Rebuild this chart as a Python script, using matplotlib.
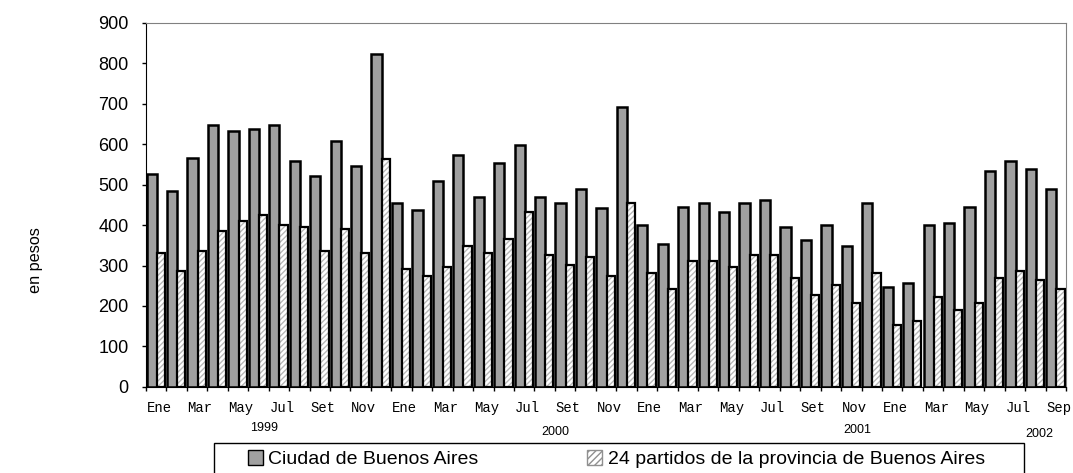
import numpy as np
import matplotlib.pyplot as plt
from matplotlib.patches import Patch, Rectangle
from matplotlib.transforms import blended_transform_factory

# datos: ingreso mensual, ene 1999 - sep 2002
n_meses = 45
etiquetas = ['Ene', 'Mar', 'May', 'Jul', 'Set', 'Nov',
             'Ene', 'Mar', 'May', 'Jul', 'Set', 'Nov',
             'Ene', 'Mar', 'May', 'Jul', 'Set', 'Nov',
             'Ene', 'Mar', 'May', 'Jul', 'Sep']

ciudad = [525, 485, 565, 648, 633, 638, 648, 558, 520, 608, 545, 822,
          455, 436, 510, 574, 470, 554, 599, 470, 455, 490, 441, 692,
          401, 352, 445, 455, 431, 455, 461, 396, 362, 401, 347, 455,
          248, 258, 401, 406, 445, 534, 559, 539, 490]

partidos = [332, 287, 337, 386, 411, 426, 401, 396, 337, 391, 332, 564,
            292, 273, 297, 347, 332, 366, 431, 327, 302, 322, 273, 455,
            282, 243, 312, 312, 297, 327, 327, 268, 228, 253, 208, 282,
            154, 164, 223, 189, 208, 268, 287, 263, 243]

anios = ['1999', '2000', '2001', '2002']
pos_anios = [5.3, 19.5, 34.3, 43.2]
alt_anios = [0.095, 0.086, 0.090, 0.082]

x = np.arange(n_meses)

fig = plt.figure(figsize=(10.73, 4.73), dpi=100)
ax = fig.add_axes([0.136, 0.182, 0.8575, 0.770])

# barras Ciudad
ax.bar(x - 0.47, ciudad, width=0.5, align='edge', color='#a0a0a0',
       edgecolor='black', linewidth=1.8, zorder=2)

# barras partidos (rayado gris claro + borde negro)
ax.bar(x + 0.03, partidos, width=0.4, align='edge', color='white',
       edgecolor='#b8b8b8', hatch='//////', linewidth=0, zorder=2)
ax.bar(x + 0.03, partidos, width=0.4, align='edge', fill=False,
       edgecolor='black', linewidth=1.6, zorder=3)

ax.set_xlim(-0.5, n_meses - 0.5)
ax.set_ylim(0, 900)
ax.set_yticks(range(0, 901, 100))
ax.tick_params(axis='y', labelsize=13, direction='out', length=3, width=1, pad=9.5)
for lab in ax.get_yticklabels():
    lab.set_fontfamily('Liberation Sans')

# ticks entre meses, etiquetas cada dos meses
ax.set_xticks(np.arange(n_meses + 1) - 0.5)
ax.set_xticklabels([])
ax.tick_params(axis='x', which='major', direction='out', length=3, width=1)
ax.set_xticks(x[::2] + 0.15, minor=True)
ax.set_xticklabels(etiquetas, minor=True,
                   fontfamily='Liberation Mono', fontsize=10)
ax.tick_params(axis='x', which='minor', length=0, pad=10)

for s in ['top', 'right']:
    ax.spines[s].set_color('#808080')
for s in ['left', 'bottom']:
    ax.spines[s].set_color('black')

fig.text(0.033, 0.450, 'en pesos', rotation=90, ha='center', va='center',
         fontsize=11.7, fontfamily='Liberation Sans')

tr = blended_transform_factory(ax.transData, fig.transFigure)
for a, p, h in zip(anios, pos_anios, alt_anios):
    ax.text(p, h, a, transform=tr, ha='center', va='center', fontsize=9,
            fontfamily='Liberation Sans')

# caja de la leyenda (sale por abajo de la figura)
fig.patches.append(Rectangle((0.199, -0.05), 0.755, 0.113, transform=fig.transFigure,
                             facecolor='white', edgecolor='black', linewidth=1))

handles = [Patch(facecolor='#a0a0a0', edgecolor='black', linewidth=1),
           Patch(facecolor='white', edgecolor='#909090', hatch='/////', linewidth=1)]
leg = fig.legend(handles, ['Ciudad de Buenos Aires',
                           '24 partidos de la provincia de Buenos Aires'],
                 loc='center left', bbox_to_anchor=(0.222, 0.029),
                 ncol=2, frameon=False, handlelength=0.75, handleheight=0.75,
                 handletextpad=0.3, borderpad=0.0, columnspacing=5.6,
                 prop={'family': 'Liberation Sans', 'size': 14})

plt.savefig('out.png', dpi=100)
